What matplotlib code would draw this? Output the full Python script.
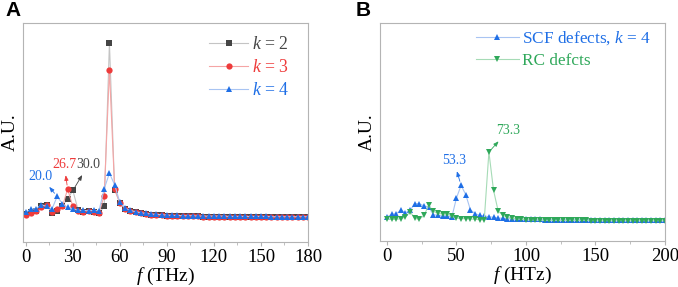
import numpy as np
import matplotlib
matplotlib.use("Agg")
import matplotlib.pyplot as plt
from matplotlib.ticker import MultipleLocator

plt.rcParams['font.family'] = ['Liberation Serif', 'DejaVu Serif']
plt.rcParams['mathtext.fontset'] = 'custom'
plt.rcParams['mathtext.rm'] = 'Liberation Serif'
plt.rcParams['mathtext.it'] = 'Liberation Serif:italic'

# ---------------- Data ----------------
# Panel A: frequency bins (THz), spacing 10/3
freq_a = np.round(np.arange(55) * 10 / 3, 2)
k2 = [85, 90, 94, 107, 110, 87, 92, 109, 130, 155, 97, 91, 92, 89, 87, 107, 599, 157, 117, 100,
      93, 89, 86, 84, 82, 81, 80, 79, 78, 78, 77, 77, 77, 77, 76, 76, 76, 76, 76, 76,
      76, 76, 76, 75, 75, 75, 75, 75, 75, 75, 75, 75, 75, 75, 75]
k3 = [82, 87, 92, 105, 112, 89, 99, 107, 159, 107, 94, 91, 92, 89, 87, 139, 517, 159, 117, 100,
      93, 89, 86, 84, 82, 81, 80, 79, 78, 78, 77, 77, 77, 77, 76, 76, 76, 76, 76, 76,
      76, 76, 76, 75, 75, 75, 75, 75, 75, 75, 75, 75, 75, 75, 75]
k4 = [90, 99, 100, 112, 107, 99, 137, 115, 104, 100, 95, 95, 94, 95, 94, 160, 207, 172, 119, 102,
      95, 91, 88, 86, 84, 83, 82, 81, 80, 80, 79, 79, 79, 78, 78, 78, 78, 78, 78, 77,
      77, 77, 77, 77, 77, 77, 77, 76, 76, 76, 76, 76, 76, 76, 76]
labels_a = ['$k$ = 2', '$k$ = 3', '$k$ = 4']
xticks_a = [0, 30, 60, 90, 120, 150, 180]

# Panel B: frequency bins (HTz)
freq_b = np.round(np.arange(61) * 10 / 3, 2)
scf = [72, 80, 82, 92, 85, 92, 112, 112, 105, 102, 79, 77, 75, 75, 72, 129, 167, 139, 94, 82,
       77, 75, 73, 71, 69, 68, 67, 66, 66, 65, 65, 65, 65, 65, 64, 64, 64, 64, 64, 64,
       64, 64, 64, 64, 64, 64, 64, 64, 64, 64, 64, 64, 64, 64, 64, 64, 64, 64, 64, 64, 64]
rc = [65, 65, 65, 67, 72, 88, 68, 65, 77, 107, 89, 83, 81, 81, 75, 69, 67, 67, 66, 65,
      64, 64, 267, 152, 90, 77, 71, 68, 66, 65, 64, 63, 63, 63, 62, 62, 62, 62, 62, 62,
      62, 62, 62, 62, 61, 61, 61, 61, 61, 61, 61, 61, 61, 61, 61, 61, 61, 61, 61, 61, 61]
labels_b = ['SCF defects, $k$ = 4', 'RC defcts']
xticks_b = [0, 50, 100, 150, 200]

# ---------------- Styles ----------------
GRAY_M, GRAY_L = '#454545', '#c4c4c4'
RED_M, RED_L = '#ee3b3b', '#f5a5a5'
BLUE_M, BLUE_L = '#1f6fe6', '#a8c4f2'
GREEN_M, GREEN_L = '#2fa85a', '#a6dbb6'
SPINE = '#b4b4b4'

fig = plt.figure(figsize=(6.78, 2.87), dpi=100)
axA = fig.add_axes([23 / 678, 45 / 287, 285 / 678, 219 / 287])
axB = fig.add_axes([380 / 678, 46 / 287, 285 / 678, 218 / 287])


def style_axes(ax):
    for s in ax.spines.values():
        s.set_color(SPINE)
        s.set_linewidth(0.8)
    ax.set_yticks([])
    ax.tick_params(axis='x', which='both', direction='out', color=SPINE, labelsize=13.5, pad=2)
    ax.tick_params(axis='x', which='major', length=3)
    ax.tick_params(axis='x', which='minor', length=2)
    ax.set_ylabel('A.U.', fontsize=14, labelpad=3)


# Panel A
series_a = [(k2, 's', GRAY_M, GRAY_L, 4.2), (k3, 'o', RED_M, RED_L, 4.5), (k4, '^', BLUE_M, BLUE_L, 5)]
for (vals, mk, mc, lc, ms), lab in zip(series_a, labels_a):
    axA.plot(freq_a, vals, color=lc, lw=0.8, marker=mk, ms=ms, mfc=mc, mec=mc, mew=0, label=lab)
axA.set_xlim(-1.8, 180)
axA.set_ylim(0, 659)
axA.set_xticks(xticks_a)
axA.xaxis.set_minor_locator(MultipleLocator(15))
style_axes(axA)
axA.set_xlabel('$f$ (THz)', fontsize=14, labelpad=0)
legA = axA.legend(loc='upper left', bbox_to_anchor=(0.622, 0.98), frameon=False, fontsize=12.8,
                  handlelength=2.2, handletextpad=0.2, labelspacing=0.33, borderpad=0)
for t, c in zip(legA.get_texts(), [GRAY_M, RED_M, BLUE_M]):
    t.set_color(c)

ann_kw = dict(fontsize=10, ha='center', va='center')
axA.annotate('20.0', xy=(freq_a[6], k4[6]), xytext=(9.5, 197), color=BLUE_M,
             arrowprops=dict(arrowstyle='<|-,head_length=0.3,head_width=0.12', color=BLUE_M,
                             lw=0.6, shrinkA=1, shrinkB=3), **ann_kw)
axA.annotate('26.7', xy=(freq_a[8], k3[8]), xytext=(24.5, 233), color=RED_M,
             arrowprops=dict(arrowstyle='<|-,head_length=0.3,head_width=0.12', color=RED_M,
                             lw=0.6, shrinkA=1, shrinkB=3), **ann_kw)
axA.annotate('30.0', xy=(freq_a[9], k2[9]), xytext=(40, 233), color=GRAY_M,
             arrowprops=dict(arrowstyle='<|-,head_length=0.3,head_width=0.12', color=GRAY_M,
                             lw=0.6, shrinkA=1, shrinkB=3), **ann_kw)

# Panel B
series_b = [(scf, '^', BLUE_M, BLUE_L), (rc, 'v', GREEN_M, GREEN_L)]
for (vals, mk, mc, lc), lab in zip(series_b, labels_b):
    axB.plot(freq_b, vals, color=lc, lw=0.8, marker=mk, ms=5, mfc=mc, mec=mc, mew=0, label=lab)
axB.set_xlim(-5, 200)
axB.set_ylim(0, 654)
axB.set_xticks(xticks_b)
axB.xaxis.set_minor_locator(MultipleLocator(25))
style_axes(axB)
axB.set_xlabel('$f$ (HTz)', fontsize=14, labelpad=0)
legB = axB.legend(loc='upper left', bbox_to_anchor=(0.305, 1.01), frameon=False, fontsize=12.4,
                  handlelength=2.5, handletextpad=0.2, labelspacing=0.35, borderpad=0)
for t, c in zip(legB.get_texts(), [BLUE_M, GREEN_M]):
    t.set_color(c)

axB.annotate('53.3', xy=(freq_b[16], scf[16]), xytext=(48, 241), color=BLUE_M,
             arrowprops=dict(arrowstyle='<|-,head_length=0.3,head_width=0.12', color=BLUE_M,
                             lw=0.6, shrinkA=1, shrinkB=3), **ann_kw)
axB.annotate('73.3', xy=(freq_b[22], rc[22]), xytext=(87, 330), color=GREEN_M,
             arrowprops=dict(arrowstyle='<|-,head_length=0.3,head_width=0.12', color=GREEN_M,
                             lw=0.6, shrinkA=1, shrinkB=3), **ann_kw)

fig.text(5 / 678, 1 - 10 / 287, 'A', family='Liberation Sans', fontweight='bold', fontsize=15,
         va='center', ha='left')
fig.text(356 / 678, 1 - 10 / 287, 'B', family='Liberation Sans', fontweight='bold', fontsize=15,
         va='center', ha='left')

fig.savefig('out.png', dpi=100)
